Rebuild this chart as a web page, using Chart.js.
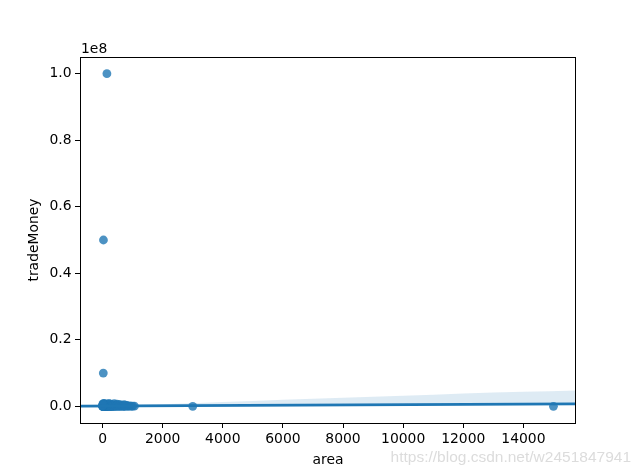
<!DOCTYPE html>
<html>
<head>
<meta charset="utf-8">
<script src="https://cdn.jsdelivr.net/npm/chart.js@4/dist/chart.umd.min.js"></script>
<style>
html,body{margin:0;padding:0;background:#fff;}
#c{display:block;}
</style>
</head>
<body>
<canvas id="c" width="640" height="476"></canvas>
<script>
// ---- data ----
const areaValues = [145, 30, 25, 3000, 15000, 1060, 1000, 900, 850, 800, 760, 700, 660, 620, 580, 540, 500, 470, 440, 410, 380, 350, 320, 300, 280, 260, 240, 220, 200, 185, 170, 155, 140, 125, 110, 100, 90, 80, 70, 60, 50, 45, 40, 35, 30, 25, 20, 15, 10, 5, 2,
  720, 680, 640, 600, 560, 520, 480, 450, 420, 390, 360, 330, 310, 290, 270, 250, 230, 210, 190, 175, 160, 130, 115, 95, 85, 75, 65, 55, 48, 42, 38, 33, 28, 22, 18, 12, 8, 3, 820, 780, 740, 950];
const tradeMoneyValues = [100000000, 50000000, 10000000, 20000, 8000, 60000, 45000, 120000, 35000, 300000, 80000, 150000, 50000, 200000, 40000, 90000, 250000, 60000, 30000, 100000, 45000, 70000, 25000, 180000, 40000, 20000, 60000, 15000, 30000, 12000, 50000, 9000, 20000, 8000, 15000, 11000, 7000, 9000, 6000, 5500, 5000, 4500, 4000, 3800, 3500, 3000, 2800, 2500, 2200, 2000, 1800,
  500000, 30000, 400000, 90000, 600000, 35000, 700000, 120000, 450000, 800000, 60000, 550000, 20000, 380000, 650000, 150000, 420000, 900000, 250000, 500000, 320000, 700000, 180000, 600000, 300000, 450000, 800000, 250000, 650000, 400000, 550000, 900000, 350000, 700000, 480000, 300000, 600000, 200000, 70000, 250000, 40000, 30000];
const fitX = [-750, 15750];
const fitY = [90000, 760000];
const ciX = [-750, 0, 2000, 4000, 6000, 8000, 10000, 12000, 14000, 15750];
const ciUpper = [150000, 200000, 650000, 1300000, 2000000, 2600000, 3200000, 3900000, 4400000, 4800000];
const ciLower = [40000, 80000, 120000, 180000, 250000, 320000, 380000, 440000, 500000, 550000];
const xTickValues = [0, 2000, 4000, 6000, 8000, 10000, 12000, 14000];
const yTickValues = [0, 20000000, 40000000, 60000000, 80000000, 100000000];
const xLabel = 'area';
const yLabel = 'tradeMoney';
const yOffsetText = '1e8';
const watermark = 'https://blog.csdn.net/w2451847941';

// ---- chart ----
const FONT = 'DejaVu Sans';
const blue = '#1f77b4';

const framePlugin = {
  id: 'frame',
  afterDraw(chart) {
    const {ctx, chartArea: a} = chart;
    ctx.save();
    ctx.strokeStyle = '#000';
    ctx.lineWidth = 1;
    ctx.strokeRect(Math.round(a.left) + 0.5, Math.round(a.top) + 0.5, Math.round(a.right - a.left) - 1, Math.round(a.bottom - a.top));
    ctx.fillStyle = '#000';
    ctx.font = '13.9px "' + FONT + '"';
    ctx.textAlign = 'left';
    ctx.textBaseline = 'alphabetic';
    ctx.fillText(yOffsetText, a.left + 1, 53);
    ctx.fillStyle = '#dcdcdc';
    ctx.font = '15.5px "Liberation Sans"';
    ctx.textAlign = 'right';
    ctx.textBaseline = 'middle';
    ctx.fillText(watermark, 631, 458);
    ctx.restore();
  }
};

new Chart(document.getElementById('c'), {
  data: {
    datasets: [
      {
        type: 'line',
        data: ciX.map((x, i) => ({x: x, y: ciLower[i]})),
        borderWidth: 0,
        pointRadius: 0,
        fill: false,
        order: 3
      },
      {
        type: 'line',
        data: ciX.map((x, i) => ({x: x, y: ciUpper[i]})),
        borderWidth: 0,
        pointRadius: 0,
        fill: '-1',
        backgroundColor: 'rgba(31,119,180,0.15)',
        cubicInterpolationMode: 'monotone',
        order: 3
      },
      {
        type: 'scatter',
        data: areaValues.map((x, i) => ({x: x, y: tradeMoneyValues[i]})),
        backgroundColor: 'rgba(31,119,180,0.8)',
        borderWidth: 0,
        pointRadius: 4.4,
        order: 2
      },
      {
        type: 'line',
        data: fitX.map((x, i) => ({x: x, y: fitY[i]})),
        borderColor: blue,
        borderWidth: 2.8,
        pointRadius: 0,
        fill: false,
        order: 1
      }
    ]
  },
  options: {
    responsive: false,
    animation: false,
    events: [],
    layout: {padding: {left: 0, right: 64, top: 57, bottom: 0}},
    plugins: {legend: {display: false}, tooltip: {enabled: false}},
    scales: {
      x: {
        type: 'linear',
        position: 'bottom',
        min: -750,
        max: 15750,
        afterBuildTicks: s => { s.ticks = xTickValues.map(v => ({value: v})); },
        afterFit: s => { s.height = 53; },
        grid: {display: true, drawOnChartArea: false, drawTicks: true, tickLength: 5, tickColor: '#000', tickWidth: 1},
        border: {display: false},
        ticks: {color: '#000', font: {family: FONT, size: 13.9}, padding: 3, maxRotation: 0, autoSkip: false, callback: v => String(v)},
        title: {display: true, text: xLabel, color: '#000', font: {family: FONT, size: 13.9}, padding: {top: 0, bottom: 7}}
      },
      y: {
        type: 'linear',
        position: 'left',
        min: -5000000,
        max: 105000000,
        afterBuildTicks: s => { s.ticks = yTickValues.map(v => ({value: v})); },
        afterFit: s => { s.width = 80; },
        grid: {display: true, drawOnChartArea: false, drawTicks: true, tickLength: 5, tickColor: '#000', tickWidth: 1},
        border: {display: false},
        ticks: {color: '#000', font: {family: FONT, size: 13.9}, padding: 3.5, autoSkip: false, callback: v => (v / 1e8).toFixed(1)},
        title: {display: true, text: yLabel, color: '#000', font: {family: FONT, size: 13.9}, padding: {top: 26.5, bottom: 0}}
      }
    }
  },
  plugins: [framePlugin]
});
</script>
</body>
</html>
